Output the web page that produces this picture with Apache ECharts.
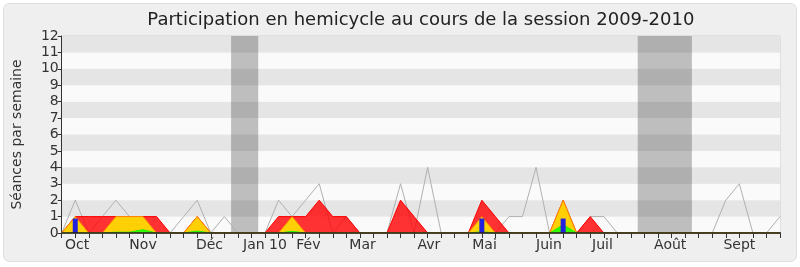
<!DOCTYPE html>
<html>
<head>
<meta charset="utf-8">
<style>
  html, body { margin: 0; padding: 0; background: #ffffff; }
  #chart { width: 800px; height: 267px; }
</style>
<script src="https://cdn.jsdelivr.net/npm/echarts@6/dist/echarts.min.js"></script>
</head>
<body>
<div id="chart"></div>
<script>
// Weekly participation, session 2009-2010 (week 0 = first week of the session)
const weeks = 54;

// Séances in the hemicycle per week (all deputies)
const seances = [0,2,0,1,2,1,0,0,0,1,2,0,1,0,0,0,2,1,2,3,0,1,0,0,0,3,0,4,0,0,0,0,0,1,1,4,0,0,0,1,1,0,0,0,0,0,0,0,0,2,3,0,0,1];
// Weekly presence
const presences = [0,1,1,1,1,1,1,1,0,0,1,0,0,0,0,0,1,1,1,2,1,1,0,0,0,2,1,0,0,0,0,2,1,0,0,0,0,2,0,1,0,0,0,0,0,0,0,0,0,0,0,0,0,0];
// Weekly interventions
const interventions = [0,1,0,0,1,1,1,0,0,0,1,0,0,0,0,0,0,1,0,0,0,0,0,0,0,0,0,0,0,0,0,1,0,0,0,0,0,2,0,0,0,0,0,0,0,0,0,0,0,0,0,0,0,0];
// Short interventions
const courtes = [0,0,0,0,0.05,0.05,0.2,0,0,0,0.12,0,0,0,0,0,0,0.1,0,0,0,0,0,0,0,0,0,0,0,0,0,0.08,0,0,0,0,0,0.5,0,0,0,0,0,0,0,0,0,0,0,0,0,0,0,0];
// Oral questions
const questions = [[1,0.88],[31,0.88],[37,0.88]];

// Recess periods (week ranges)
const vacances = [[12.5,14.5],[42.5,46.5]];

// Month labels and their position on the week axis
const moisNoms = ['Oct','Nov','Déc','Jan 10','Fév','Mar','Avr','Mai','Juin','Juil','Août','Sept'];
const moisPos  = [1.13,6.0,10.9,15.0,18.2,22.2,27.1,31.2,35.95,39.9,44.9,50.0];

const yTicks = [0,1,2,3,4,5,6,7,8,9,10,11,12];

const weekIdx = Array.from({length: weeks}, (_, i) => i);
const pairs = arr => arr.map((v, i) => [i, v]);

const font = 'DejaVu Sans';
const gridLeft = 61.7, gridRight = 20;

const chart = echarts.init(document.getElementById('chart'), null, {renderer: 'canvas'});

chart.setOption({
  backgroundColor: '#ffffff',
  animation: false,
  textStyle: { fontFamily: font },
  graphic: [{
    type: 'rect',
    z: -10,
    silent: true,
    shape: { x: 3.5, y: 3.5, width: 793, height: 258, r: 6 },
    style: { fill: '#efefef', stroke: '#dedede', lineWidth: 1 }
  }, {
    type: 'text',
    silent: true,
    x: gridLeft + (800 - gridLeft - gridRight) / 2,
    y: 20,
    style: {
      text: 'Participation en hemicycle au cours de la session 2009-2010',
      fontFamily: font, fontSize: 18, fill: '#222',
      textAlign: 'center', textVerticalAlign: 'middle'
    }
  }],
  grid: {
    left: gridLeft, right: gridRight, top: 36, bottom: 34,
    show: true, borderColor: '#d0d0d0', borderWidth: 1, backgroundColor: 'transparent'
  },
  xAxis: [{
    type: 'value',
    min: 0, max: weeks - 1,
    z: 10,
    axisLine: { show: true, onZero: false, lineStyle: { color: '#2a1a1a', width: 1.5 } },
    axisTick: { show: true, length: 5, customValues: weekIdx, lineStyle: { color: '#333' } },
    axisLabel: {
      show: true,
      customValues: moisPos,
      margin: 5,
      fontFamily: font, fontSize: 14, color: '#333',
      formatter: v => {
        const k = moisPos.findIndex(p => Math.abs(p - v) < 1e-6);
        return k >= 0 ? moisNoms[k] : '';
      }
    },
    splitLine: { show: false }
  }, {
    type: 'value',
    position: 'top',
    min: 0, max: weeks - 1,
    axisLine: { show: false },
    axisTick: { show: true, length: 1, customValues: weekIdx, lineStyle: { color: '#777' } },
    axisLabel: { show: false },
    splitLine: { show: false }
  }],
  yAxis: {
    type: 'value',
    min: 0, max: 12, interval: 1,
    name: 'Séances par semaine',
    nameLocation: 'middle',
    nameGap: 37,
    nameTextStyle: { fontFamily: font, fontSize: 14, color: '#333' },
    axisLine: { show: true, lineStyle: { color: '#333' } },
    axisTick: { show: true, length: 4, lineStyle: { color: '#333' } },
    axisLabel: {
      margin: 3, fontFamily: font, fontSize: 14, color: '#333',
      formatter: v => (yTicks.includes(v) ? String(v) : '')
    },
    splitLine: { show: false },
    splitArea: { show: true, areaStyle: { color: ['#fafafa', '#e5e5e5'] } }
  },
  series: [{
    name: 'Séances',
    type: 'line',
    data: pairs(seances),
    symbol: 'none',
    z: 1,
    lineStyle: { color: '#b0b0b0', width: 1 },
    markArea: {
      silent: true,
      itemStyle: { color: 'rgba(35,35,35,0.28)' },
      data: vacances.map(([a, b]) => [{ xAxis: a }, { xAxis: b }])
    }
  }, {
    name: 'Présences',
    type: 'line',
    data: pairs(presences),
    symbol: 'none',
    z: 2,
    lineStyle: { color: '#ff0000', width: 1 },
    areaStyle: { color: 'rgba(255,0,0,0.8)', opacity: 1, origin: 'start' }
  }, {
    name: 'Interventions',
    type: 'line',
    data: pairs(interventions),
    symbol: 'none',
    z: 3,
    lineStyle: { color: '#ff8800', width: 1 },
    areaStyle: { color: 'rgba(255,225,0,0.9)', opacity: 1, origin: 'start' }
  }, {
    name: 'Interventions courtes',
    type: 'line',
    data: pairs(courtes),
    symbol: 'none',
    z: 4,
    lineStyle: { color: '#22ee00', width: 1 },
    areaStyle: { color: 'rgba(40,255,0,0.95)', opacity: 1, origin: 'start' }
  }, {
    name: 'Questions',
    type: 'bar',
    data: questions,
    barWidth: 5,
    z: 5,
    itemStyle: { color: '#2222dd' }
  }]
});
</script>
</body>
</html>
